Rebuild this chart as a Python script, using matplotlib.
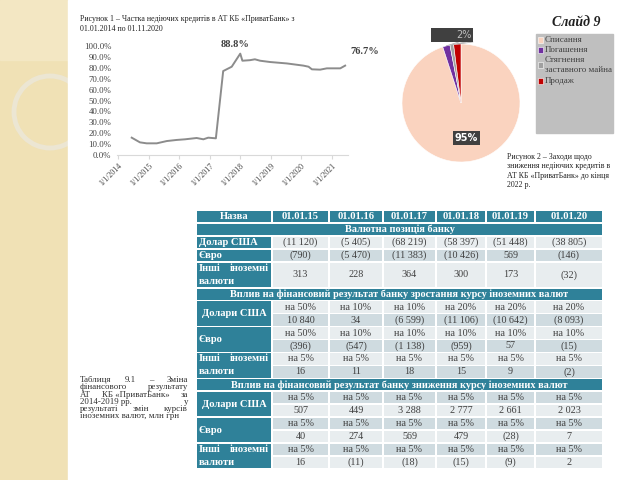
import matplotlib
matplotlib.use('Agg')
import matplotlib.pyplot as plt
from matplotlib.patches import Rectangle, Arc
import numpy as np

plt.rcParams['font.family'] = ['Liberation Serif', 'DejaVu Serif']

# ---------------- data ----------------
# Figure 1: share of non-performing loans (%)
npl_years = [2014.44, 2014.71, 2014.93, 2015.26, 2015.59, 2015.91, 2016.19, 2016.57,
             2016.79, 2016.95, 2017.20, 2017.44, 2017.72, 2018.00, 2018.07, 2018.32,
             2018.48, 2018.65, 2018.98, 2019.53, 2020.07, 2020.24, 2020.35, 2020.62,
             2020.84, 2021.17, 2021.28, 2021.44]
npl_share = [15.9, 11.6, 10.7, 10.7, 12.8, 13.8, 14.4, 15.6,
             14.4, 15.9, 15.3, 77.0, 81.0, 93.0, 86.5, 87.0,
             87.8, 86.5, 85.3, 84.0, 82.0, 81.0, 78.6, 78.3,
             79.5, 79.5, 79.5, 82.0]
x_tick_years = [2014, 2015, 2016, 2017, 2018, 2019, 2020, 2021]
x_tick_labels = ['1/1/2014', '1/1/2015', '1/1/2016', '1/1/2017',
                 '1/1/2018', '1/1/2019', '1/1/2020', '1/1/2021']
y_ticks = [0, 10, 20, 30, 40, 50, 60, 70, 80, 90, 100]
peak_label = '88.8%'
last_label = '76.7%'

# Figure 2: measures
pie_labels = ['Списання', 'Погашення', 'Стягнення заставного майна', 'Продаж']
pie_values = [95, 2, 1, 2]
pie_colors = ['#FAD3BF', '#7030A0', '#A0A0A0', '#C00000']

# Table 9.1
tbl_header = ['Назва', '01.01.15', '01.01.16', '01.01.17', '01.01.18', '01.01.19', '01.01.20']
sec_position = 'Валютна позиція банку'
sec_rise = 'Вплив на фінансовий результат банку зростання курсу іноземних валют'
sec_fall = 'Вплив на фінансовий результат банку зниження курсу іноземних валют'
pos_usd = ['(11 120)', '(5 405)', '(68 219)', '(58 397)', '(51 448)', '(38 805)']
pos_eur = ['(790)', '(5 470)', '(11 383)', '(10 426)', '569', '(146)']
pos_oth = ['313', '228', '364', '300', '173', '(32)']
rise_usd_pct = ['на 50%', 'на 10%', 'на 10%', 'на 20%', 'на 20%', 'на 20%']
rise_usd = ['10 840', '34', '(6 599)', '(11 106)', '(10 642)', '(8 093)']
rise_eur_pct = ['на 50%', 'на 10%', 'на 10%', 'на 10%', 'на 10%', 'на 10%']
rise_eur = ['(396)', '(547)', '(1 138)', '(959)', '57', '(15)']
rise_oth_pct = ['на 5%', 'на 5%', 'на 5%', 'на 5%', 'на 5%', 'на 5%']
rise_oth = ['16', '11', '18', '15', '9', '(2)']
fall_usd_pct = ['на 5%', 'на 5%', 'на 5%', 'на 5%', 'на 5%', 'на 5%']
fall_usd = ['507', '449', '3 288', '2 777', '2 661', '2 023']
fall_eur_pct = ['на 5%', 'на 5%', 'на 5%', 'на 5%', 'на 5%', 'на 5%']
fall_eur = ['40', '274', '569', '479', '(28)', '7']
fall_oth_pct = ['на 5%', 'на 5%', 'на 5%', 'на 5%', 'на 5%', 'на 5%']
fall_oth = ['16', '(11)', '(18)', '(15)', '(9)', '2']

# ---------------- figure ----------------
W, H = 640, 480
fig = plt.figure(figsize=(6.4, 4.8), dpi=100)
bg = fig.add_axes([0, 0, 1, 1])
bg.set_xlim(0, W)
bg.set_ylim(H, 0)
bg.axis('off')
bg.set_zorder(-10)

# decorative left strip
bg.add_patch(Rectangle((0, 0), 68, H, color='#F0E1B5', zorder=0))
bg.add_patch(Rectangle((0, 0), 68, 60, color='#F3E7C3', zorder=0.5))
bg.add_patch(Arc((50, 112), 72, 72, theta1=0, theta2=360, lw=3.5, color='#ECE6D3', zorder=1))
bg.add_patch(Arc((95, -20), 160, 160, theta1=180, theta2=250, lw=1.2, color='#F8F0DA', zorder=1))
bg.add_patch(Rectangle((68, 0), W - 68, H, color='white', zorder=2))

TXT = '#404040'

# ---------------- line chart ----------------
x0_px, x1_px, y0_px, y1_px = 117, 348, 155, 46
ax = fig.add_axes([x0_px / W, 1 - y0_px / H, (x1_px - x0_px) / W, (y0_px - y1_px) / H])
ax.patch.set_alpha(0)
ax.plot(npl_years, npl_share, color='#8C8C8C', lw=1.4, solid_joinstyle='round')
px_per_year = 30.49
ax.set_xlim(2014 - (118.3 - x0_px) / px_per_year, 2014 + (x1_px - 118.3) / px_per_year)
ax.set_ylim(0, 100)
for s in ['top', 'right', 'left']:
    ax.spines[s].set_visible(False)
ax.spines['bottom'].set_color('#D9D9D9')
ax.set_yticks(y_ticks)
ax.set_yticklabels(['%.1f%%' % v for v in y_ticks], fontsize=6.3, color=TXT)
ax.tick_params(axis='y', length=0, pad=4)
ax.set_xticks(x_tick_years)
ax.set_xticklabels(x_tick_labels, rotation=45, ha='right', rotation_mode='anchor',
                   fontsize=5.7, color=TXT)
ax.tick_params(axis='x', length=3, color='#D9D9D9', pad=2)
i_peak = int(np.argmax(npl_share))
ax.annotate(peak_label, (npl_years[i_peak], npl_share[i_peak]), xytext=(-4, 3),
            textcoords='offset points', ha='center', va='bottom', fontsize=7.5,
            fontweight='bold', color=TXT, annotation_clip=False)
ax.annotate(last_label, (npl_years[-1], npl_share[-1]), xytext=(4, 7),
            textcoords='offset points', ha='left', va='bottom', fontsize=7.5,
            fontweight='bold', color=TXT, annotation_clip=False)

bg.text(80, 19, 'Рисунок 1 – Частка недіючих кредитів в АТ КБ «ПриватБанк» з',
        fontsize=5.7, color='#202020', va='center', zorder=5)
bg.text(80, 29, '01.01.2014 по 01.11.2020', fontsize=5.7, color='#202020', va='center', zorder=5)

# ---------------- pie ----------------
cx, cy, r = 461, 103, 59
pax = fig.add_axes([(cx - r) / W, 1 - (cy + r) / H, 2 * r / W, 2 * r / H])
wedges, _, autotexts = pax.pie(pie_values, colors=pie_colors, startangle=90, counterclock=False,
                               autopct=lambda p: '%.0f%%' % p if p > 50 else '',
                               pctdistance=0.6, radius=1,
                               wedgeprops=dict(edgecolor='white', linewidth=0.4))
for t in autotexts:
    if t.get_text():
        t.set_family(['DejaVu Sans'])
        t.set_fontsize(7)
        t.set_fontweight('bold')
        t.set_color('white')
        t.set_bbox(dict(facecolor='#404040', edgecolor='none', pad=1.5))
pax.set_xlim(-1, 1)
pax.set_ylim(-1, 1)
pax.set_aspect('equal')
pax.axis('off')
# overlapping small labels
box_l, box_r, box_t, box_b = (431 - cx) / r, (473 - cx) / r, (cy - 28) / r, (cy - 42) / r
pax.add_patch(Rectangle((box_l, box_b), box_r - box_l, box_t - box_b, facecolor='#404040',
                        edgecolor='none', clip_on=False, zorder=5))
pax.text(box_r - 0.02, (box_t + box_b) / 2, '%d%%' % pie_values[1], ha='right', va='center',
         fontsize=7, color='#BFBFBF', family=['DejaVu Sans'], clip_on=False, zorder=6)
cum = 0
for i, v in enumerate(pie_values):
    if i > 0:
        ang = np.deg2rad(90 - (cum + v / 2) / sum(pie_values) * 360)
        pax.plot([box_l + 0.35 + 0.12 * i, np.cos(ang) * 1.0], [box_b, np.sin(ang) * 1.0],
                 color='#A6A6A6', lw=0.5, clip_on=False, zorder=4)
    cum += v

# legend box
bg.add_patch(Rectangle((536, 34), 77, 99, color='#BFBFBF', zorder=3))
leg_rows = [(40, [pie_labels[0]]), (50, [pie_labels[1]]),
            (65, ['Стягнення', 'заставного майна']), (81, [pie_labels[3]])]
for (yy, lines), col in zip(leg_rows, pie_colors):
    bg.add_patch(Rectangle((537.5, yy - 2.8), 5.6, 5.6, facecolor=col, edgecolor='white',
                           lw=0.4, zorder=4))
    if len(lines) == 1:
        bg.text(545, yy, lines[0], fontsize=6.5, color=TXT, va='center', zorder=5)
    else:
        bg.text(545, yy - 5.5, lines[0], fontsize=6.5, color=TXT, va='center', zorder=5)
        bg.text(545, yy + 5.5, lines[1], fontsize=6.5, color=TXT, va='center', zorder=5)

bg.text(576, 23, 'Слайд 9', fontsize=10, fontweight='bold', fontstyle='italic',
        color='#202020', ha='center', va='center', zorder=5)
for i, line in enumerate(['Рисунок 2 – Заходи щодо', 'зниження недіючих кредитів в',
                          'АТ КБ «ПриватБанк» до кінця', '2022 р.']):
    bg.text(507, 157 + i * 9.3, line, fontsize=5.7, color='#202020', va='center', zorder=5)

# ---------------- table ----------------
TEAL = '#2F8199'
LIGHT = '#E8EDEF'
DARK = '#CFDBE0'
col_x = [196, 272, 329, 383, 436, 486, 535, 603]
row_top = 210
row_h = 12.95
g = 0.8

def cell(c0, c1, r0, r1, color):
    x0 = col_x[c0] + g
    x1 = col_x[c1] - g
    y0 = row_top + r0 * row_h + g
    y1 = row_top + r1 * row_h - g
    bg.add_patch(Rectangle((x0, y0), x1 - x0, y1 - y0, color=color, lw=0, zorder=3))
    return x0, x1, (y0 + y1) / 2

def ctext(x, y, s, bold=False, color=TXT, ha='center', size=7.3):
    bg.text(x, y, s, ha=ha, va='center', fontsize=size, color=color,
            fontweight='bold' if bold else 'normal', zorder=5)

# header
for j, h in enumerate(tbl_header):
    x0, x1, ym = cell(j, j + 1, 0, 1, TEAL)
    ctext((x0 + x1) / 2, ym, h, bold=True, color='white', size=7.6)

def section(r, title):
    x0, x1, ym = cell(0, 7, r, r + 1, TEAL)
    ctext((x0 + x1) / 2, ym, title, bold=True, color='white', size=7.4)

def label_cell(r0, r1, kind):
    x0, x1, ym = cell(0, 1, r0, r1, TEAL)
    if kind == 'other':
        ya = row_top + (r0 + 0.5) * row_h
        yb = row_top + (r0 + 1.5) * row_h
        ctext(x0 + 2, ya, 'Інші', bold=True, color='white', ha='left', size=7.6)
        ctext(x1 - 2, ya, 'іноземні', bold=True, color='white', ha='right', size=7.6)
        ctext(x0 + 2, yb, 'валюти', bold=True, color='white', ha='left', size=7.6)
    elif kind == 'usd2':
        ctext((x0 + x1) / 2, ym, 'Долари США', bold=True, color='white', size=7.6)
    else:
        ctext(x0 + 2, ym, kind, bold=True, color='white', ha='left', size=7.6)

def data_row(r0, r1, vals, color):
    for j, v in enumerate(vals):
        x0, x1, ym = cell(j + 1, j + 2, r0, r1, color)
        ctext((x0 + x1) / 2, ym, v)

section(1, sec_position)
label_cell(2, 3, 'Долар США'); data_row(2, 3, pos_usd, LIGHT)
label_cell(3, 4, 'Євро'); data_row(3, 4, pos_eur, DARK)
label_cell(4, 6, 'other'); data_row(4, 6, pos_oth, LIGHT)

section(6, sec_rise)
label_cell(7, 9, 'usd2'); data_row(7, 8, rise_usd_pct, LIGHT); data_row(8, 9, rise_usd, DARK)
label_cell(9, 11, 'Євро'); data_row(9, 10, rise_eur_pct, LIGHT); data_row(10, 11, rise_eur, DARK)
label_cell(11, 13, 'other'); data_row(11, 12, rise_oth_pct, LIGHT); data_row(12, 13, rise_oth, DARK)

section(13, sec_fall)
label_cell(14, 16, 'usd2'); data_row(14, 15, fall_usd_pct, DARK); data_row(15, 16, fall_usd, LIGHT)
label_cell(16, 18, 'Євро'); data_row(16, 17, fall_eur_pct, DARK); data_row(17, 18, fall_eur, LIGHT)
label_cell(18, 20, 'other'); data_row(18, 19, fall_oth_pct, DARK); data_row(19, 20, fall_oth, LIGHT)

# ---------------- table caption (justified) ----------------
cap_lines = [['Таблиця', '9.1', '–', 'Зміна'],
             ['фінансового', 'результату'],
             ['АТ', 'КБ «ПриватБанк»', 'за'],
             ['2014-2019 рр.', 'у'],
             ['результаті', 'змін', 'курсів'],
             ['іноземних валют, млн грн']]
cap_x0, cap_x1 = 80, 188
renderer = fig.canvas.get_renderer()
for i, words in enumerate(cap_lines):
    y = 380 + i * 7.3
    if len(words) == 1:
        bg.text(cap_x0, y, words[0], fontsize=6.4, color='#303030', va='center', zorder=5)
        continue
    texts = [bg.text(0, y, w, fontsize=6.4, color='#303030', va='center', zorder=5) for w in words]
    widths = [t.get_window_extent(renderer).width for t in texts]
    gap = ((cap_x1 - cap_x0) - sum(widths)) / (len(words) - 1)
    x = cap_x0
    for t, w in zip(texts, widths):
        t.set_x(x)
        x += w + gap

fig.savefig('out.png', dpi=100)
